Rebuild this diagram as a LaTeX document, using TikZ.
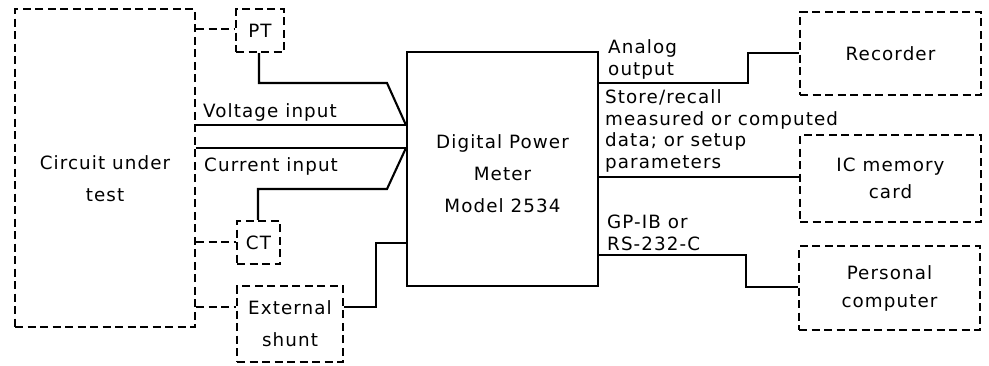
\documentclass[tikz,border=0pt]{standalone}
\usepackage{fontspec}
\setmainfont{DejaVu Sans}[LetterSpace=6]
\newcommand{\fs}[1]{\fontsize{18.3}{#1}\selectfont}
\tikzset{
  dbox/.style={draw, line width=2.1pt, dash pattern=on 8pt off 4.5pt, inner sep=0pt, align=center, font=\fs{32}},
  sbox/.style={draw, line width=2.1pt, inner sep=0pt, align=center},
  wire/.style={line width=2.1pt},
  dwire/.style={line width=2.1pt, dash pattern=on 8pt off 4.5pt},
  lbl/.style={anchor=base west, inner sep=0pt, font=\fs{21.5}},
  boxtext/.style={align=center, font=\fs{32}, inner sep=0pt}
}
\begin{document}
\begin{tikzpicture}[x=1pt,y=-1pt]
\useasboundingbox (0,0) rectangle (989,365);
% boxes
\node[dbox, minimum width=180pt, minimum height=318pt,
      label={[boxtext, yshift=-10.5pt, name=cuttext]center:{Circuit under\\test}}] (cut) at (105,168) {};
\node[dbox, minimum width=48pt, minimum height=43pt] (pt) at (260,30.5) {PT};
\node[dbox, minimum width=43pt, minimum height=43pt] (ct) at (258.5,242.5) {CT};
\node[dbox, minimum width=106pt, minimum height=76pt] (shunt) at (290,324) {External\\shunt};
\node[sbox, minimum width=191pt, minimum height=234pt,
      label={[boxtext, yshift=-5pt, name=metertext]center:{Digital Power\\Meter\\Model 2534}}] (meter) at (502.5,169) {};
\node[dbox, minimum width=181pt, minimum height=83pt] (rec) at (890.5,53.5) {Recorder};
\node[dbox, minimum width=181pt, minimum height=87pt, font=\fs{27}] (ic) at (890.5,178.5) {IC memory\\card};
\node[dbox, minimum width=181pt, minimum height=84pt, font=\fs{28}] (pc) at (889.5,288) {Personal\\computer};
% coordinates on meter
\coordinate (vin) at (meter.west |- 0,125);
\coordinate (iin) at (meter.west |- 0,148);
\coordinate (sin) at (meter.west |- 0,243);
% dashed connections
\draw[dwire] (cut.east |- 0,29) -- (pt.west |- 0,29);
\draw[dwire] (cut.east |- 0,242) -- (ct.west |- 0,242);
\draw[dwire] (cut.east |- 0,307) -- (shunt.west |- 0,307);
% inputs
\draw[wire] (pt.south -| 259,0) |- (387,83) -- (vin);
\draw[wire] (cut.east |- vin) -- (vin);
\draw[wire] (cut.east |- iin) -- (iin);
\draw[wire] (ct.north -| 258,0) |- (387,189) -- (iin);
\draw[wire] (shunt.east |- 0,307) -| (376,243) -- (sin);
% outputs
\draw[wire] (meter.east |- 0,83) -| (748,53) -- (rec.west |- 0,53);
\draw[wire] (meter.east |- 0,177) -- (ic.west |- 0,177);
\draw[wire] (meter.east |- 0,255) -| (746,287) -- (pc.west |- 0,287);
% labels
\node[lbl] (lv) at (203,117) {Voltage input};
\node[lbl] (li) at (204,171.5) {Current input};
\node[lbl] (la) at (608,75) {\begin{tabular}[b]{@{}l@{}}Analog\\output\end{tabular}};
\node[lbl] (ls) at (605,168) {\begin{tabular}[b]{@{}l@{}}Store/recall\\measured or computed\\data; or setup\\parameters\end{tabular}};
\node[lbl] (lg) at (607,250) {\begin{tabular}[b]{@{}l@{}}GP-IB or\\RS-232-C\end{tabular}};
\end{tikzpicture}
\end{document}
